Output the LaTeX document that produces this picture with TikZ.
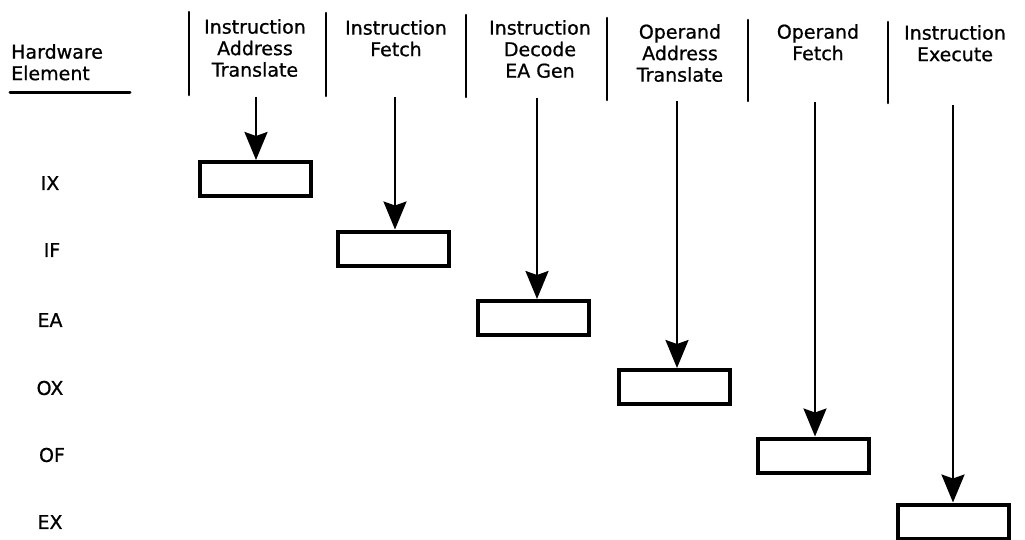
\documentclass[tikz,border=0pt]{standalone}
\usepackage{fontspec}
\setmainfont{DejaVu Sans}[FakeBold=0.8]
\usetikzlibrary{arrows.meta}
\begin{document}
\begin{tikzpicture}[x=1pt,y=-1pt,
  lbl/.style={font=\fontsize{19}{21.5}\selectfont, align=center, inner sep=0pt, anchor=north},
  rowlbl/.style={font=\fontsize{19}{21}\selectfont, inner sep=0pt},
  sep/.style={line width=2.6pt, line cap=round},
  stage/.style={draw, line width=4pt, minimum width=111pt, minimum height=34pt, inner sep=0pt},
  flow/.style={line width=2.3pt, -{Stealth[width=23pt,length=28pt,inset=4pt]}}]
\useasboundingbox (0,0) rectangle (1025,540);
% header
\node[lbl, align=left, anchor=north west] (hw) at (11,44) {Hardware\\Element};
\coordinate (ul1) at (10,93);
\coordinate (ul2) at (130,93);
\draw[line width=3pt, line cap=round] (ul1) -- (ul2);
% separators
\foreach \i/\x/\ya/\yb in {1/189/12/95, 2/326/13/96, 3/466/15/97, 4/607/18/100, 5/748/20/101, 6/888/22/103} {
  \coordinate (t\i) at (\x,\ya);
  \coordinate (u\i) at (\x,\yb);
  \draw[sep] (t\i) -- (u\i);
}
% column titles
\node[lbl] (c1) at (255,19) {Instruction\\Address\\Translate};
\node[lbl] (c2) at (396,20) {Instruction\\Fetch};
\node[lbl] (c3) at (540,20) {Instruction\\Decode\\EA Gen};
\node[lbl] (c4) at (680,24) {Operand\\Address\\Translate};
\node[lbl] (c5) at (818,24) {Operand\\Fetch};
\node[lbl] (c6) at (955,25) {Instruction\\Execute};
% row labels
\node[rowlbl] (rIX) at (50,183) {IX};
\node[rowlbl] (rIF) at (52,250) {IF};
\node[rowlbl] (rEA) at (50,320) {EA};
\node[rowlbl] (rOX) at (50,388) {OX};
\node[rowlbl] (rOF) at (52,455) {OF};
\node[rowlbl] (rEX) at (50,522) {EX};
% stage boxes
\node[stage] (b1) at (255,179) {};
\node[stage] (b2) at (393.5,248.5) {};
\node[stage] (b3) at (533,318) {};
\node[stage] (b4) at (674.5,387) {};
\node[stage] (b5) at (813.5,455.5) {};
\node[stage] (b6) at (953.5,521.5) {};
% arrows
\coordinate (s1) at (256,97);
\coordinate (s2) at (395,97);
\coordinate (s3) at (537,98);
\coordinate (s4) at (677,101);
\coordinate (s5) at (815,102);
\coordinate (s6) at (953,105);
\foreach \i in {1,...,6} {
  \draw[flow] (s\i) -- (s\i |- b\i.north);
}
\end{tikzpicture}
\end{document}
